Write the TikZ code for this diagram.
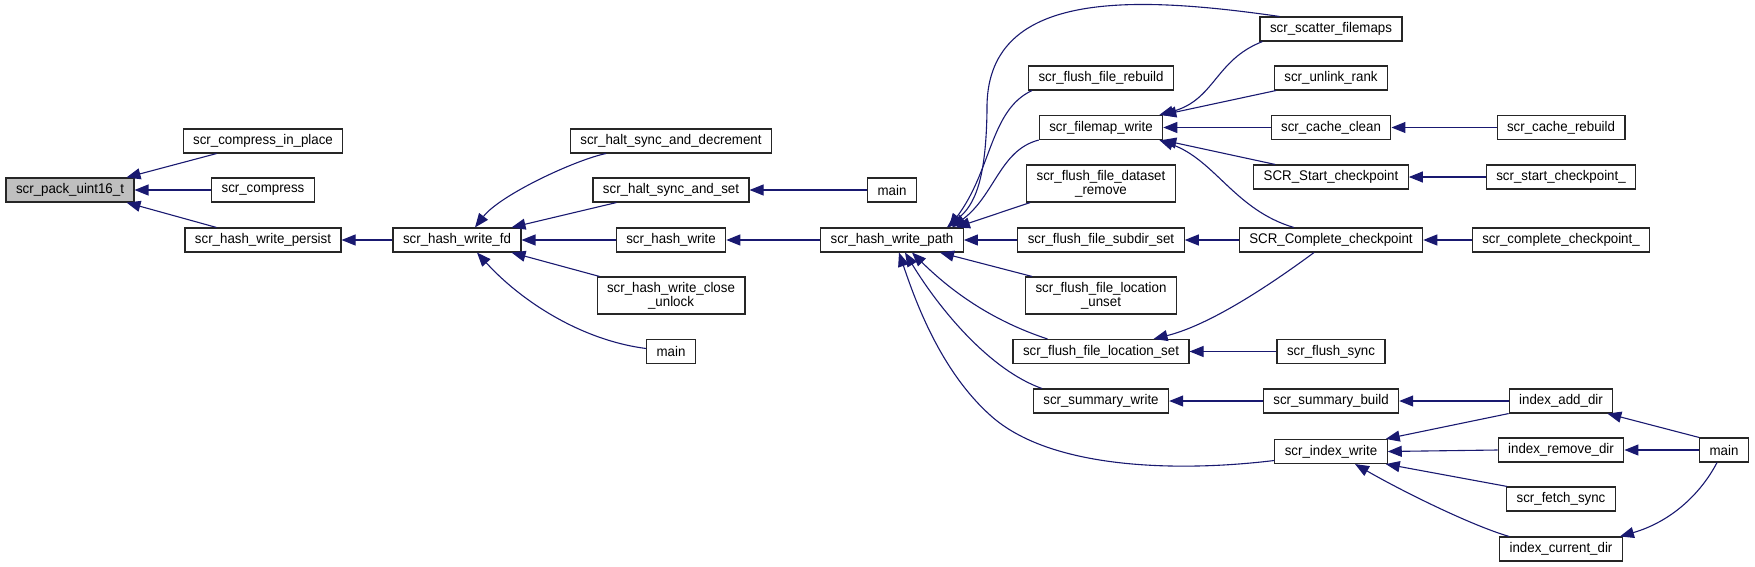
\documentclass[tikz,border=0pt]{standalone}
\usepackage{fontspec}
\newfontfamily\dxfont[FakeStretch=0.95]{Liberation Sans}
\usetikzlibrary{arrows.meta, positioning, calc}
\definecolor{callblue}{HTML}{191970}
\definecolor{boxgray}{HTML}{BFBFBF}

\begin{document}
\begin{tikzpicture}[x=1pt, y=-1pt,
  fn/.style={draw=black!85, line width=1.1pt, fill=white, minimum height=24pt, inner xsep=10pt, inner ysep=3pt, align=center, font=\dxfont\fontsize{14}{14}\selectfont},
  fn2/.style={fn, minimum height=37pt},
  call/.style={draw=callblue, line width=1.1pt, {Triangle[length=14pt, width=11pt]}-}]
  \useasboundingbox (0,0) rectangle (1755,567);
  % Functions
  \node[fn, fill=boxgray] (pack) at (70,190) {scr\_pack\_uint16\_t};
  \node[fn] (compinplace) at (263,141) {scr\_compress\_in\_place};
  \node[fn] (compress) at (263,190) {scr\_compress};
  \node[fn] (persist) at (263,240) {scr\_hash\_write\_persist};
  \node[fn] (writefd) at (457,240) {scr\_hash\_write\_fd};
  \node[fn] (haltdec) at (671,141) {scr\_halt\_sync\_and\_decrement};
  \node[fn] (haltset) at (671,190) {scr\_halt\_sync\_and\_set};
  \node[fn] (hashwrite) at (671,240) {scr\_hash\_write};
  \node[fn2] (closeunlock) at (671,295.5) {scr\_hash\_write\_close\\\_unlock};
  \node[fn] (mainB) at (671,351.5) {main};
  \node[fn] (mainA) at (892,190) {main};
  \node[fn] (writepath) at (892,240) {scr\_hash\_write\_path};
  \node[fn] (rebuild) at (1101,78) {scr\_flush\_file\_rebuild};
  \node[fn] (filemapw) at (1101,127.5) {scr\_filemap\_write};
  \node[fn2] (dsremove) at (1101,183.5) {scr\_flush\_file\_dataset\\\_remove};
  \node[fn] (subdirset) at (1101,240) {scr\_flush\_file\_subdir\_set};
  \node[fn2] (locunset) at (1101,295.5) {scr\_flush\_file\_location\\\_unset};
  \node[fn] (locset) at (1101,351.5) {scr\_flush\_file\_location\_set};
  \node[fn] (sumwrite) at (1101,401) {scr\_summary\_write};
  \node[fn] (scatter) at (1331,29) {scr\_scatter\_filemaps};
  \node[fn] (unlink) at (1331,78) {scr\_unlink\_rank};
  \node[fn] (cacheclean) at (1331,127.5) {scr\_cache\_clean};
  \node[fn] (startckpt) at (1331,177) {SCR\_Start\_checkpoint};
  \node[fn] (completeckpt) at (1331,240) {SCR\_Complete\_checkpoint};
  \node[fn] (flushsync) at (1331,351.5) {scr\_flush\_sync};
  \node[fn] (sumbuild) at (1331,401) {scr\_summary\_build};
  \node[fn] (idxwrite) at (1331,451.5) {scr\_index\_write};
  \node[fn] (cacherebuild) at (1561,127.5) {scr\_cache\_rebuild};
  \node[fn] (startf) at (1561,177) {scr\_start\_checkpoint\_};
  \node[fn] (completef) at (1561,240) {scr\_complete\_checkpoint\_};
  \node[fn] (idxadd) at (1561,401) {index\_add\_dir};
  \node[fn] (idxremove) at (1561,450) {index\_remove\_dir};
  \node[fn] (fetchsync) at (1561,499) {scr\_fetch\_sync};
  \node[fn] (idxcurrent) at (1561,549) {index\_current\_dir};
  \node[fn] (mainC) at (1724,450) {main};
  % Calls
  \draw[call] ([xshift=-8pt]pack.north east) -- ([xshift=34pt]compinplace.south west);
  \draw[call] (pack.east) -- (compress.west);
  \draw[call] ([xshift=-8pt]pack.south east) -- ([xshift=32pt]persist.north west);
  \draw[call] (persist.east) -- (writefd.west);
  \draw[call] ([xshift=18pt]writefd.north) .. controls (500,195) and (575,160) .. ([xshift=36pt]haltdec.south west);
  \draw[call] ([xshift=-10pt]writefd.north east) -- ([xshift=24pt]haltset.south west);
  \draw[call] (writefd.east) -- (hashwrite.west);
  \draw[call] ([xshift=-10pt]writefd.south east) -- ([xshift=3pt]closeunlock.north west);
  \draw[call] ([xshift=20pt]writefd.south) .. controls (520,300) and (580,340) .. ([yshift=3pt]mainB.west);
  \draw[call] (haltset.east) -- (mainA.west);
  \draw[call] (hashwrite.east) -- (writepath.west);
  \draw[call] ([xshift=-17pt]writepath.north east) .. controls (975,205) and (986,180) .. (987,110)
    .. controls (985,-10) and (1130,-5) .. ([xshift=20pt]scatter.north west);
  \draw[call] ([xshift=-15pt]writepath.north east) .. controls (992,170) and (990,110) .. ([xshift=4pt]rebuild.south west);
  \draw[call] ([xshift=-12pt]writepath.north east) .. controls (995,195) and (1000,150) .. (filemapw.south west);
  \draw[call] ([xshift=-8pt]writepath.north east) -- ([xshift=4pt]dsremove.south west);
  \draw[call] (writepath.east) -- (subdirset.west);
  \draw[call] ([xshift=48pt]writepath.south) -- ([xshift=7pt]locunset.north west);
  \draw[call] ([xshift=20pt]writepath.south) .. controls (950,290) and (990,320) .. ([xshift=35pt]locset.north west);
  \draw[call] ([xshift=13pt]writepath.south) .. controls (940,310) and (990,370) .. ([xshift=9pt]sumwrite.north west);
  \draw[call] ([xshift=7pt]writepath.south) .. controls (915,300) and (940,370) .. (990,415)
    .. controls (1050,470) and (1180,472) .. ([yshift=-9pt]idxwrite.west);
  \draw[call] ([xshift=-4pt]filemapw.north east) .. controls (1215,100) and (1215,60) .. ([xshift=3pt]scatter.south west);
  \draw[call] ([xshift=-1pt]filemapw.north east) -- ([xshift=2pt]unlink.south west);
  \draw[call] (filemapw.east) -- (cacheclean.west);
  \draw[call] ([xshift=-1pt]filemapw.south east) -- ([xshift=22pt]startckpt.north west);
  \draw[call] ([xshift=-4pt]filemapw.south east) .. controls (1215,160) and (1235,210) .. ([xshift=55pt]completeckpt.north west);
  \draw[call] (cacheclean.east) -- (cacherebuild.west);
  \draw[call] (startckpt.east) -- (startf.west);
  \draw[call] (subdirset.east) -- (completeckpt.west);
  \draw[call] ([xshift=-36pt]locset.north east) .. controls (1210,325) and (1270,285) .. ([xshift=-17pt]completeckpt.south);
  \draw[call] (completeckpt.east) -- (completef.west);
  \draw[call] (locset.east) -- (flushsync.west);
  \draw[call] (sumwrite.east) -- (sumbuild.west);
  \draw[call] (sumbuild.east) -- (idxadd.west);
  \draw[call] ([xshift=-2pt]idxwrite.north east) -- (idxadd.south west);
  \draw[call] (idxwrite.east) -- (idxremove.west);
  \draw[call] ([xshift=-2pt]idxwrite.south east) -- ([xshift=1pt]fetchsync.north west);
  \draw[call] ([xshift=24pt]idxwrite.south) .. controls (1400,490) and (1470,525) .. ([xshift=10pt]idxcurrent.north west);
  \draw[call] ([xshift=-6pt]idxadd.south east) -- (mainC.north west);
  \draw[call] (idxremove.east) -- (mainC.west);
  \draw[call] ([xshift=-3pt]idxcurrent.north east) .. controls (1670,522) and (1700,495) .. ([xshift=-7pt]mainC.south);
\end{tikzpicture}
\end{document}
